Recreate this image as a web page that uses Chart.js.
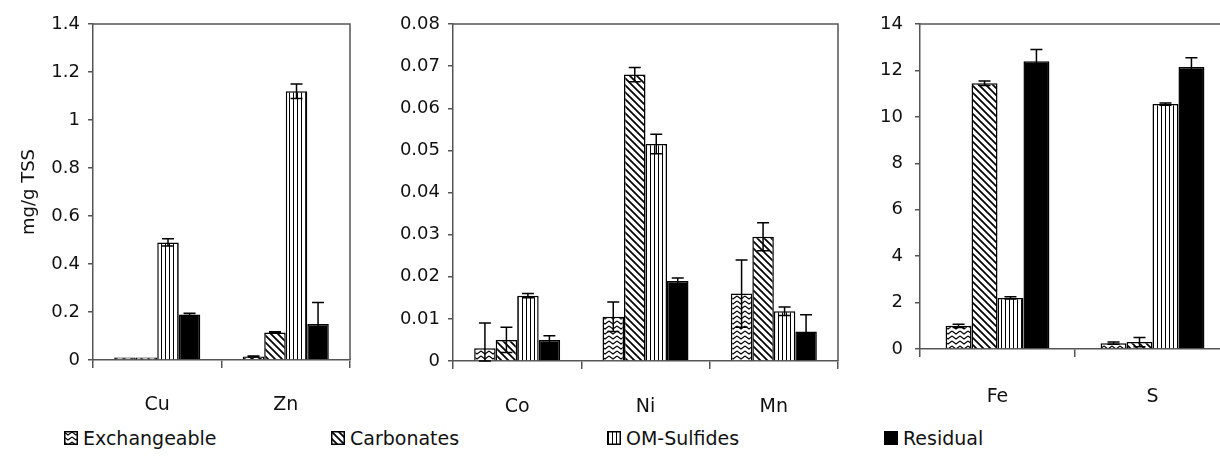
<!DOCTYPE html>
<html>
<head>
<meta charset="utf-8">
<script src="https://cdn.jsdelivr.net/npm/chart.js@4/dist/chart.umd.min.js"></script>
<style>
  html, body { margin: 0; padding: 0; background: #fff; overflow: hidden; }
  body { position: relative; width: 1220px; height: 461px; font-family: "DejaVu Sans", sans-serif; color: #111; }
  canvas.panel { position: absolute; top: 0; }
  .legend { position: absolute; top: 427px; display: flex; align-items: center; font-size: 19px; }
  .legend canvas { margin-right: 5px; }
</style>
</head>
<body>
<canvas class="panel" id="chartA" width="352" height="420" style="left:0px"></canvas>
<canvas class="panel" id="chartB" width="447" height="420" style="left:393px"></canvas>
<canvas class="panel" id="chartC" width="352" height="420" style="left:880px"></canvas>

<div class="legend" style="left:64px"><canvas id="swExch" width="14" height="14"></canvas>Exchangeable</div>
<div class="legend" style="left:331px"><canvas id="swCarb" width="14" height="14"></canvas>Carbonates</div>
<div class="legend" style="left:607px"><canvas id="swOm" width="14" height="14"></canvas>OM-Sulfides</div>
<div class="legend" style="left:884px"><canvas id="swRes" width="14" height="14"></canvas>Residual</div>

<script>
// fraction names
const fractions = ["Exchangeable", "Carbonates", "OM-Sulfides", "Residual"];

// Cu / Zn  (mg/g TSS)
const metalsA = ["Cu", "Zn"];
const exchA = [0.01, 0.015];
const carbA = [0.01, 0.115];
const omA = [0.49, 1.12];
const resA = [0.19, 0.15];
const exchErrA = [0, 0.002];
const carbErrA = [0, 0.003];
const omErrA = [0.015, 0.03];
const resErrA = [0.005, 0.09];

// Co / Ni / Mn
const metalsB = ["Co", "Ni", "Mn"];
const exchB = [0.003, 0.0105, 0.016];
const carbB = [0.005, 0.068, 0.0295];
const omB = [0.0155, 0.0515, 0.0118];
const resB = [0.005, 0.019, 0.007];
const exchErrB = [0.006, 0.0035, 0.008];
const carbErrB = [0.003, 0.0017, 0.0033];
const omErrB = [0.0005, 0.0023, 0.001];
const resErrB = [0.001, 0.0007, 0.004];

// Fe / S
const metalsC = ["Fe", "S"];
const exchC = [1.0, 0.25];
const carbC = [11.45, 0.3];
const omC = [2.2, 10.55];
const resC = [12.4, 12.15];
const exchErrC = [0.07, 0.05];
const carbErrC = [0.1, 0.2];
const omErrC = [0.05, 0.05];
const resErrC = [0.5, 0.4];

const axisColor = "#555";
const textColor = "#111";

// hatch fills
function makePattern(kind) {
  const c = document.createElement("canvas");
  const g = c.getContext("2d");
  g.strokeStyle = "#000";
  g.fillStyle = "#000";
  if (kind === "zigzag") {
    c.width = 8; c.height = 5;
    g.fillStyle = "#fff"; g.fillRect(0, 0, 8, 5);
    g.lineWidth = 1.1;
    g.beginPath(); g.moveTo(0, 1); g.lineTo(4, 4); g.lineTo(8, 1); g.stroke();
  } else if (kind === "diag") {
    c.width = 7; c.height = 7;
    g.fillStyle = "#fff"; g.fillRect(0, 0, 7, 7);
    g.lineWidth = 1.7;
    g.beginPath();
    g.moveTo(-1, -1); g.lineTo(8, 8);
    g.moveTo(-1, 6); g.lineTo(1, 8);
    g.moveTo(6, -1); g.lineTo(8, 1);
    g.stroke();
  } else if (kind === "vert") {
    c.width = 4; c.height = 4;
    g.fillStyle = "#fff"; g.fillRect(0, 0, 4, 4);
    g.fillStyle = "#000"; g.fillRect(1, 0, 1, 4);
  } else {
    c.width = 2; c.height = 2;
    g.fillRect(0, 0, 2, 2);
  }
  return g.createPattern(c, "repeat");
}

const fills = [makePattern("zigzag"), makePattern("diag"), makePattern("vert"), "#000"];

// legend swatches
["swExch", "swCarb", "swOm", "swRes"].forEach((id, i) => {
  const sw = document.getElementById(id);
  const g = sw.getContext("2d");
  g.fillStyle = fills[i];
  g.fillRect(0, 0, 14, 14);
  g.strokeStyle = "#000";
  g.lineWidth = 1.5;
  g.strokeRect(0.75, 0.75, 12.5, 12.5);
});

// error bars from dataset.errors
const errorBars = {
  id: "errorBars",
  afterDatasetsDraw(chart) {
    const ctx = chart.ctx;
    const y = chart.scales.y;
    ctx.save();
    ctx.strokeStyle = "#000";
    ctx.lineWidth = 1.5;
    chart.data.datasets.forEach((ds, i) => {
      const meta = chart.getDatasetMeta(i);
      meta.data.forEach((bar, j) => {
        const e = ds.errors[j];
        if (!e) return;
        const v = ds.data[j];
        const top = y.getPixelForValue(v + e);
        const bot = y.getPixelForValue(Math.max(v - e, 0));
        ctx.beginPath();
        ctx.moveTo(bar.x, top); ctx.lineTo(bar.x, bot);
        ctx.moveTo(bar.x - 6, top); ctx.lineTo(bar.x + 6, top);
        ctx.moveTo(bar.x - 6, bot); ctx.lineTo(bar.x + 6, bot);
        ctx.stroke();
      });
    });
    ctx.restore();
  }
};

// top and right edges of the plot box
const frame = {
  id: "frame",
  beforeDatasetsDraw(chart) {
    const a = chart.chartArea;
    const ctx = chart.ctx;
    ctx.save();
    ctx.strokeStyle = axisColor;
    ctx.lineWidth = 1.5;
    ctx.beginPath();
    ctx.moveTo(a.left, a.top); ctx.lineTo(a.right, a.top); ctx.lineTo(a.right, a.bottom);
    ctx.stroke();
    ctx.restore();
  }
};

function buildChart(id, labels, values, errors, opts) {
  const datasets = fractions.map((name, i) => ({
    label: name,
    data: values[i],
    errors: errors[i],
    backgroundColor: fills[i],
    borderColor: "#000",
    borderWidth: 1.5,
    barPercentage: 1,
    categoryPercentage: 0.67
  }));
  return new Chart(document.getElementById(id), {
    type: "bar",
    data: { labels, datasets },
    plugins: [frame, errorBars],
    options: {
      responsive: false,
      animation: false,
      devicePixelRatio: 1,
      layout: { padding: { top: 24, right: 2, left: 0, bottom: 0 } },
      plugins: { legend: { display: false }, tooltip: { enabled: false } },
      scales: {
        x: {
          grid: { offset: true, drawOnChartArea: false, tickLength: 8, color: axisColor, lineWidth: 1.5 },
          border: { color: axisColor, width: 1.5 },
          ticks: { color: textColor, padding: opts.xPad, font: { family: "DejaVu Sans", size: 19 } },
          afterFit: s => { s.height = opts.xHeight; }
        },
        y: {
          min: 0,
          max: opts.max,
          ticks: {
            stepSize: opts.step,
            color: textColor,
            padding: opts.yPad,
            font: { family: "DejaVu Sans", size: 18 },
            callback: v => String(Number(v.toFixed(3)))
          },
          grid: { drawOnChartArea: false, tickLength: 5, color: axisColor, lineWidth: 1.5 },
          border: { color: axisColor, width: 1.5 },
          title: {
            display: !!opts.title,
            text: opts.title || "",
            color: textColor,
            padding: { top: 19, bottom: 0 },
            font: { family: "DejaVu Sans", size: 18 }
          },
          afterFit: s => { s.width = opts.yWidth; }
        }
      }
    }
  });
}

buildChart("chartA", metalsA, [exchA, carbA, omA, resA], [exchErrA, carbErrA, omErrA, resErrA],
  { max: 1.4, step: 0.2, yWidth: 93, xHeight: 60, xPad: 26, yPad: 8, title: "mg/g TSS" });

buildChart("chartB", metalsB, [exchB, carbB, omB, resB], [exchErrB, carbErrB, omErrB, resErrB],
  { max: 0.08, step: 0.01, yWidth: 60, xHeight: 59, xPad: 27, yPad: 8 });

buildChart("chartC", metalsC, [exchC, carbC, omC, resC], [exchErrC, carbErrC, omErrC, resErrC],
  { max: 14, step: 2, yWidth: 40, xHeight: 71, xPad: 29, yPad: 12 });
</script>
</body>
</html>
